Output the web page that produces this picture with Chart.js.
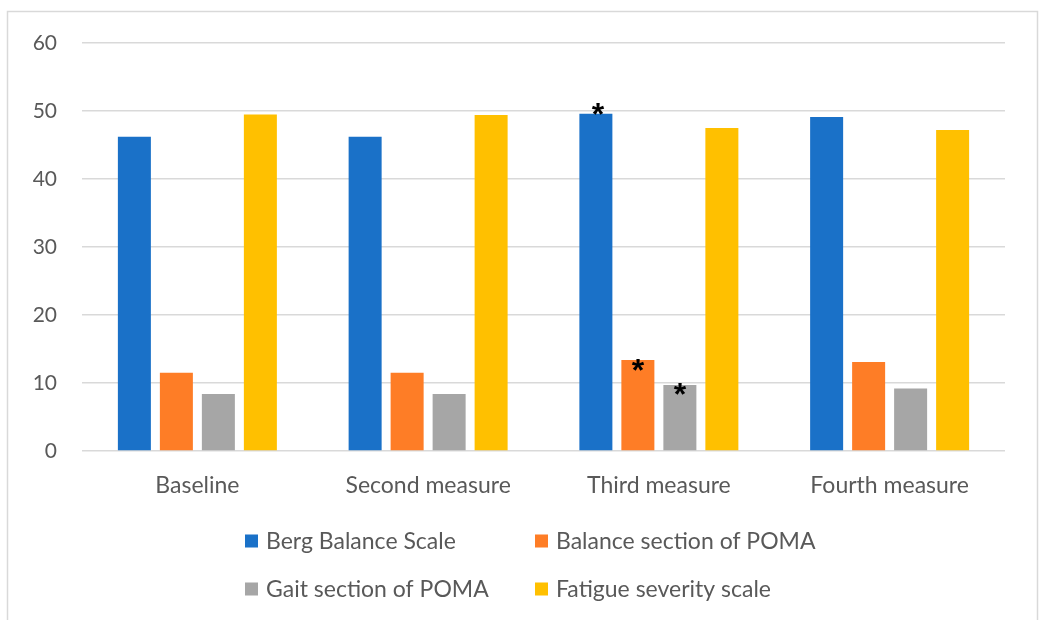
<!DOCTYPE html>
<html>
<head>
<meta charset="utf-8">
<script src="https://cdn.jsdelivr.net/npm/chart.js@4.4.0/dist/chart.umd.min.js"></script>
<style>
  html, body { margin: 0; padding: 0; background: #ffffff; }
  #wrap { position: relative; width: 1040px; height: 620px; }
</style>
</head>
<body>
<div id="wrap"><canvas id="c" width="1040" height="620"></canvas></div>
<script>
const categories = ["Baseline", "Second measure", "Third measure", "Fourth measure"];
const seriesNames = ["Berg Balance Scale", "Balance section of POMA", "Gait section of POMA", "Fatigue severity scale"];
const bergBalance = [46.2, 46.2, 49.6, 49.1];
const balancePOMA = [11.5, 11.5, 13.4, 13.1];
const gaitPOMA = [8.4, 8.4, 9.7, 9.2];
const fatigueSeverity = [49.5, 49.4, 47.5, 47.2];
const yTicks = [0, 10, 20, 30, 40, 50, 60];
// significance markers: [series index, category index]
const significant = [[0, 2], [1, 2], [2, 2]];

const colors = ["#1a71c8", "#fe7d26", "#a6a6a6", "#ffc000"];
const FONT = "Lato, 'Open Sans', sans-serif";
const TEXT = "#595959";

const frame = {
  id: "frame",
  beforeDraw(chart) {
    const ctx = chart.ctx;
    ctx.save();
    ctx.fillStyle = "#ffffff";
    ctx.fillRect(0, 0, chart.width, chart.height);
    ctx.strokeStyle = "#d9d9d9";
    ctx.lineWidth = 1.5;
    ctx.strokeRect(7.5, 11.5, 1030, 640);
    ctx.restore();
  }
};

const markOffsets = [{dx: 2, dy: -5}, {dx: 0, dy: 5}, {dx: 0, dy: 3.5}];
const stars = {
  id: "stars",
  afterDatasetsDraw(chart) {
    const ctx = chart.ctx;
    ctx.save();
    ctx.fillStyle = "#000000";
    ctx.font = "bold 32px 'Liberation Sans', sans-serif";
    ctx.textAlign = "center";
    ctx.textBaseline = "alphabetic";
    const m = ctx.measureText("*");
    const half = (m.actualBoundingBoxAscent - m.actualBoundingBoxDescent) / 2;
    significant.forEach(([ds, idx], k) => {
      const el = chart.getDatasetMeta(ds).data[idx];
      const off = markOffsets[k];
      ctx.fillText("*", el.x + off.dx, el.y + off.dy + half);
    });
    ctx.restore();
  }
};

const legendPlugin = {
  id: "customLegend",
  afterDraw(chart) {
    const ctx = chart.ctx;
    ctx.save();
    ctx.font = "23px " + FONT;
    ctx.textBaseline = "middle";
    ctx.textAlign = "left";
    const cols = [245, 535];
    const rows = [541, 589];
    chart.data.datasets.forEach((d, i) => {
      const x = cols[i % 2];
      const y = rows[Math.floor(i / 2)];
      ctx.fillStyle = d.backgroundColor;
      ctx.fillRect(x, y - 6.5, 13, 13);
      ctx.fillStyle = TEXT;
      ctx.fillText(d.label, x + 21, y + 1);
    });
    ctx.restore();
  }
};

const dataArrays = [bergBalance, balancePOMA, gaitPOMA, fatigueSeverity];

new Chart(document.getElementById("c"), {
  type: "bar",
  data: {
    labels: categories,
    datasets: dataArrays.map((arr, i) => ({
      label: seriesNames[i],
      data: arr,
      backgroundColor: colors[i],
      borderWidth: 0,
      categoryPercentage: 0.728,
      barPercentage: 0.786
    }))
  },
  options: {
    responsive: false,
    animation: false,
    devicePixelRatio: 1,
    layout: { padding: { left: 0, right: 35, top: 43, bottom: 120 } },
    plugins: {
      legend: { display: false },
      tooltip: { enabled: false }
    },
    scales: {
      x: {
        grid: { display: false, drawTicks: false },
        border: { display: false },
        ticks: { color: TEXT, font: { family: FONT, size: 23 }, padding: 21, maxRotation: 0 },
        afterFit(scale) { scale.height = 49; }
      },
      y: {
        min: 0, max: 60,
        afterBuildTicks(scale) { scale.ticks = yTicks.map(v => ({ value: v })); },
        grid: { color: "#d9d9d9", lineWidth: 1.5, drawTicks: false },
        border: { display: false },
        ticks: { color: TEXT, font: { family: FONT, size: 21 }, padding: 25 },
        afterFit(scale) { scale.width = 82; }
      }
    }
  },
  plugins: [frame, stars, legendPlugin]
});
</script>
</body>
</html>
